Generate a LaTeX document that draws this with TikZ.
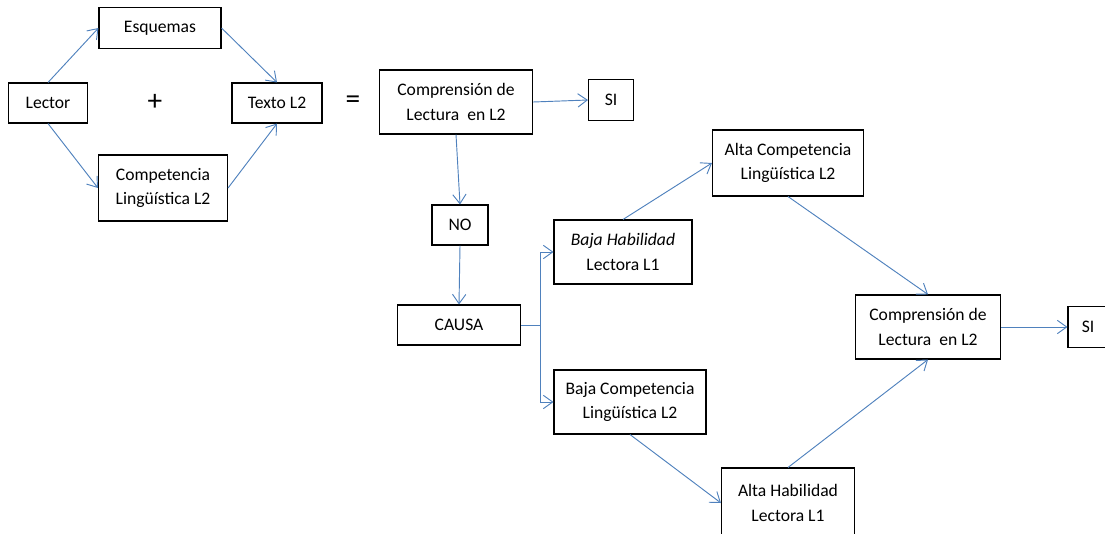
\documentclass[tikz,border=0pt]{standalone}
\usepackage{fontspec}
\setmainfont{Carlito}
\usetikzlibrary{arrows.meta}
\definecolor{flechaazul}{RGB}{79,129,189}
\tikzset{
  caja/.style={draw=black, line width=0.8pt, align=center, inner sep=0pt,
    font=\fontsize{13.2}{18.5}\selectfont},
  flecha/.style={flechaazul, line width=0.7pt,
    -{Straight Barb[length=7pt, width=10pt, line width=0.7pt]}},
  signo/.style={font=\fontsize{22}{26}\selectfont}
}

\begin{document}
\begin{tikzpicture}[x=0.75pt, y=-0.75pt]

\useasboundingbox (0,0) rectangle (1105,533);

\node[caja, minimum width=59.25pt, minimum height=30pt] (lector) at (48,103) {Lector};
\node[caja, minimum width=91.5pt, minimum height=30.75pt] (esquemas) at (160,28) {Esquemas};
\node[caja, minimum width=96.75pt, minimum height=49.5pt] (compet) at (163,188) {Competencia\\Lingüística L2};
\node[caja, minimum width=67.5pt, minimum height=30pt] (texto) at (277,103) {Texto L2};
\node[signo] (mas) at (155,102) {+};
\node[signo] (igual) at (353,102) {=};

\draw[flecha] (lector.north) -- (esquemas.west);
\draw[flecha] (lector.south) -- (compet.west);
\draw[flecha] (esquemas.east) -- (texto.north);
\draw[flecha] (compet.east) -- (texto.south);

\node[caja, minimum width=114.75pt, minimum height=48pt] (comp1) at (456,102) {Comprensión de\\Lectura~ en L2};
\node[caja, minimum width=33.75pt, minimum height=30.75pt] (si1) at (611,100) {SI};
\node[caja, minimum width=42pt, minimum height=30pt] (no) at (460,225) {NO};
\node[caja, minimum width=92.25pt, minimum height=30pt] (causa) at (459,325) {CAUSA};
\coordinate (rama) at (540,325);

\draw[flecha] (comp1.east) -- (si1.west);
\draw[flecha] (comp1.south) -- (no.north);
\draw[flecha] (no.south) -- (causa.north);

\node[caja, minimum width=103.5pt, minimum height=48pt] (bajahab) at (623,252) {\itshape Baja Habilidad\\Lectora L1};
\node[caja, minimum width=114pt, minimum height=48pt] (bajacomp) at (630,402) {Baja Competencia\\Lingüística L2};
\node[caja, minimum width=113.25pt, minimum height=49.5pt] (altacomp) at (788,163) {Alta Competencia\\Lingüística L2};
\node[caja, minimum width=99.75pt, minimum height=52.5pt] (altahab) at (788,503) {Alta Habilidad\\Lectora L1};
\node[caja, minimum width=108.75pt, minimum height=48pt] (comp2) at (928,327) {Comprensión de\\Lectura~ en L2};
\node[caja, minimum width=30pt, minimum height=30.75pt] (si2) at (1088,327) {SI};

\draw[flechaazul, line width=0.7pt] (causa.east) -- (rama);
\draw[flecha] (rama) |- (bajahab.west);
\draw[flecha] (rama) |- (bajacomp.west);
\draw[flecha] (bajahab.north) -- (altacomp.west);
\draw[flecha] (bajacomp.south) -- (altahab.west);
\draw[flecha] (altacomp.south) -- (comp2.north);
\draw[flecha] (altahab.north) -- (comp2.south);
\draw[flecha] (comp2.east) -- (si2.west);

\end{tikzpicture}
\end{document}
